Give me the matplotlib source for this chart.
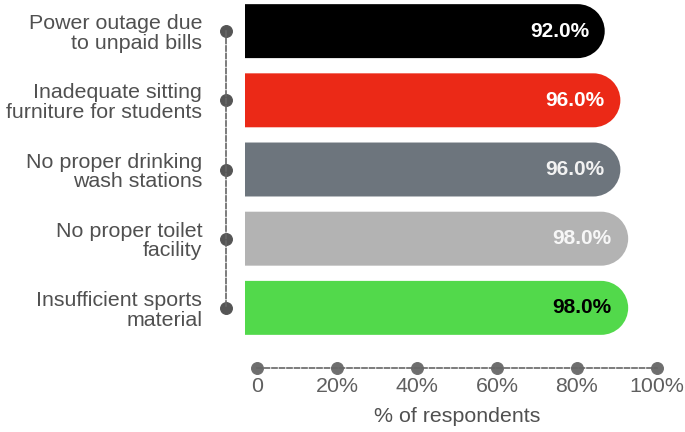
import matplotlib
matplotlib.use("Agg")
import matplotlib.pyplot as plt
import numpy as np
from matplotlib.path import Path
from matplotlib.patches import PathPatch
from matplotlib.transforms import IdentityTransform

plt.rcParams['font.family'] = ['Liberation Sans', 'DejaVu Sans']

# survey results
categories = [
    "Power outage due\nto unpaid bills",
    "Inadequate sitting\nfurniture for students",
    "No proper drinking\nwash stations",
    "No proper toilet\nfacility",
    "Insufficient sports\nmaterial",
]
values = [92.0, 96.0, 96.0, 98.0, 98.0]
bar_colors = ["#000000", "#EB2917", "#6D757D", "#B3B3B3", "#52D94B"]
label_colors = ["#FFFFFF", "#FFFFFF", "#F2F2F2", "#F7F7F7", "#000000"]
xticks = [0, 20, 40, 60, 80, 100]
xtick_labels = ["0", "20%", "40%", "60%", "80%", "100%"]

W, H = 685, 432
fig = plt.figure(figsize=(W / 100, H / 100), dpi=100)

ax = fig.add_axes([245 / W, (H - 339) / H, 391 / W, 339 / H])
ax.set_xlim(0, 100)
ax.set_ylim(4.45, -0.45)
ax.patch.set_alpha(0)

ypos = np.arange(len(categories))
bar_h = 0.78


def rounded_bar(ax, y, v, h, color):
    # square left end, fully rounded right end, built in pixel space
    (x0, ya), (x1, yb) = ax.transData.transform([(0, y - h / 2), (v, y + h / 2)])
    ybot, ytop = min(ya, yb), max(ya, yb)
    r = (ytop - ybot) / 2
    arc = Path.arc(-90, 90)
    arc_verts = arc.vertices * r + [x1 - r, (ytop + ybot) / 2]
    arc_codes = list(arc.codes)
    arc_codes[0] = Path.LINETO
    verts = [(x0, ybot)] + list(arc_verts) + [(x0, ytop), (x0, ybot)]
    codes = [Path.MOVETO] + arc_codes + [Path.LINETO, Path.CLOSEPOLY]
    patch = PathPatch(Path(verts, codes), facecolor=color, edgecolor='none',
                      transform=IdentityTransform())
    ax.add_patch(patch)


for yi, v, c, lc in zip(ypos, values, bar_colors, label_colors):
    rounded_bar(ax, yi, v, bar_h, c)
    ax.text(v * 0.957, yi, f"{v:.1f}%", ha='right', va='center',
            fontsize=15, fontweight='bold', color=lc)

for side in ['top', 'right', 'bottom']:
    ax.spines[side].set_visible(False)
ax.spines['left'].set_position(('outward', 13.7))
ax.spines['left'].set_bounds(0, 4)
ax.spines['left'].set_linestyle((0, (3, 1.5)))
ax.spines['left'].set_color('#666666')
ax.spines['left'].set_linewidth(1.2)
ax.set_xticks([])
ax.set_yticks(ypos, labels=categories)
ax.tick_params(axis='y', length=0, pad=17, labelsize=15.4, labelcolor='#505050')
for t in ax.yaxis.get_major_ticks():
    t.tick1line.set_marker('o')
    t.tick1line.set_markersize(8.5)
    t.tick1line.set_markerfacecolor('#555555')
    t.tick1line.set_markeredgecolor('#555555')
    t.label1.set_linespacing(1.05)

# value axis drawn on its own strip under the bars
ax2 = fig.add_axes([257 / W, (H - 368) / H, 400 / W, 0.001])
ax2.patch.set_alpha(0)
ax2.set_xlim(0, 100)
ax2.set_yticks([])
for side in ['top', 'right', 'left']:
    ax2.spines[side].set_visible(False)
ax2.spines['bottom'].set_linestyle((0, (3, 1.5)))
ax2.spines['bottom'].set_color('#666666')
ax2.spines['bottom'].set_linewidth(1.2)
ax2.set_xticks(xticks, labels=xtick_labels)
ax2.tick_params(axis='x', length=0, pad=6.5, labelsize=15.4, labelcolor='#5F5F5F')
for t in ax2.xaxis.get_major_ticks():
    t.tick1line.set_marker('o')
    t.tick1line.set_markersize(8.5)
    t.tick1line.set_markerfacecolor('#6E6E6E')
    t.tick1line.set_markeredgecolor('#6E6E6E')
ax2.set_xlabel("% of respondents", fontsize=15.4, color='#505050', labelpad=8)

fig.savefig("out.png", dpi=100)
